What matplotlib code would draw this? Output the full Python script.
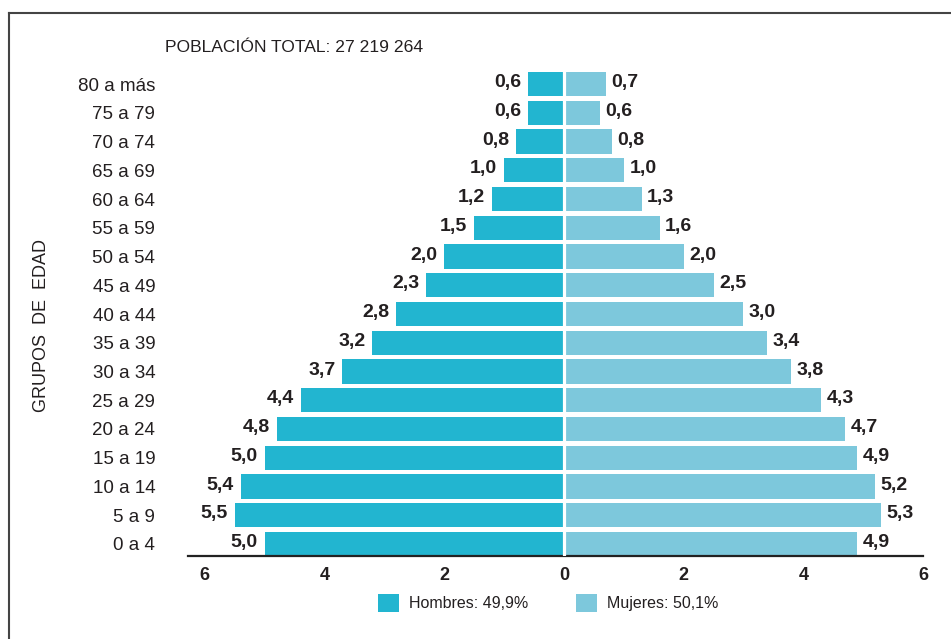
import matplotlib
matplotlib.use("Agg")
import matplotlib.pyplot as plt
from matplotlib.patches import Patch
from matplotlib.lines import Line2D

grupos = ["0 a 4", "5 a 9", "10 a 14", "15 a 19", "20 a 24", "25 a 29", "30 a 34",
          "35 a 39", "40 a 44", "45 a 49", "50 a 54", "55 a 59", "60 a 64", "65 a 69",
          "70 a 74", "75 a 79", "80 a más"]
hombres = [5.0, 5.5, 5.4, 5.0, 4.8, 4.4, 3.7, 3.2, 2.8, 2.3, 2.0, 1.5, 1.2, 1.0, 0.8, 0.6, 0.6]
mujeres = [4.9, 5.3, 5.2, 4.9, 4.7, 4.3, 3.8, 3.4, 3.0, 2.5, 2.0, 1.6, 1.3, 1.0, 0.8, 0.6, 0.7]
ticks = [-6, -4, -2, 0, 2, 4, 6]
tick_labels = ["6", "4", "2", "0", "2", "4", "6"]
titulo = "POBLACIÓN TOTAL: 27 219 264"
ley_h = "Hombres: 49,9%"
ley_m = "Mujeres: 50,1%"

C_H = "#22B5D0"
C_M = "#7DC8DC"
TXT = "#231F20"

reg = ["Liberation Sans", "DejaVu Sans"]

W, H = 951, 639
fig = plt.figure(figsize=(W / 100, H / 100), dpi=100)
ax = fig.add_axes([188 / W, 1 - 556 / H, (923 - 188) / W, (556 - 72) / H])

y = list(range(len(grupos)))
ax.barh(y, [-v for v in hombres], height=0.84, color=C_H, zorder=2)
ax.barh(y, mujeres, height=0.84, color=C_M, zorder=2)
ax.axvline(0, color="white", lw=2.3, zorder=3)

for yi, v in zip(y, hombres):
    ax.annotate(f"{v:.1f}".replace(".", ","), (-v, yi), xytext=(-5, 1), textcoords="offset points",
                ha="right", va="center", fontsize=14, fontweight="bold", color=TXT, family=reg)
for yi, v in zip(y, mujeres):
    ax.annotate(f"{v:.1f}".replace(".", ","), (v, yi), xytext=(4, 1), textcoords="offset points",
                ha="left", va="center", fontsize=14, fontweight="bold", color=TXT, family=reg)

ax.set_xlim(-6.28, 6.0)
ax.set_ylim(-0.42, 16.42)
ax.set_xticks(ticks)
ax.set_xticklabels(tick_labels, fontsize=13, fontweight="bold", color=TXT, family=reg)
ax.set_yticks(y)
ax.set_yticklabels(grupos, fontsize=13.5, color=TXT, family=reg)
ax.tick_params(axis="both", length=0)
ax.tick_params(axis="x", pad=8)
ax.tick_params(axis="y", pad=23.5)
for s in ["top", "right", "left"]:
    ax.spines[s].set_visible(False)
ax.spines["bottom"].set_color("#222222")
ax.spines["bottom"].set_linewidth(1.6)

fig.text(165 / W, 1 - 47 / H, titulo, ha="left", va="center", fontsize=12.6, color=TXT, family=reg)
fig.text(42 / W, 1 - 325 / H, "GRUPOS  DE  EDAD", rotation=90, ha="center", va="center",
         fontsize=13, color=TXT, family=reg)

handles = [Patch(facecolor=C_H, label=ley_h), Patch(facecolor=C_M, label=ley_m)]
fig.legend(handles=handles, loc="center", bbox_to_anchor=(548 / W, 1 - 603 / H), ncol=2,
           frameon=False, prop={"family": reg, "size": 11.5},
           handlelength=1.35, handleheight=1.4, handletextpad=0.6, columnspacing=3.0,
           labelcolor=TXT)

fig.add_artist(Line2D([8.5 / W, 8.5 / W], [0, 1 - 12.5 / H], transform=fig.transFigure,
                      color="#444444", lw=1.5))
fig.add_artist(Line2D([8.5 / W, 1], [1 - 12.5 / H, 1 - 12.5 / H], transform=fig.transFigure,
                      color="#444444", lw=1.5))

fig.savefig("out.png", dpi=100)
